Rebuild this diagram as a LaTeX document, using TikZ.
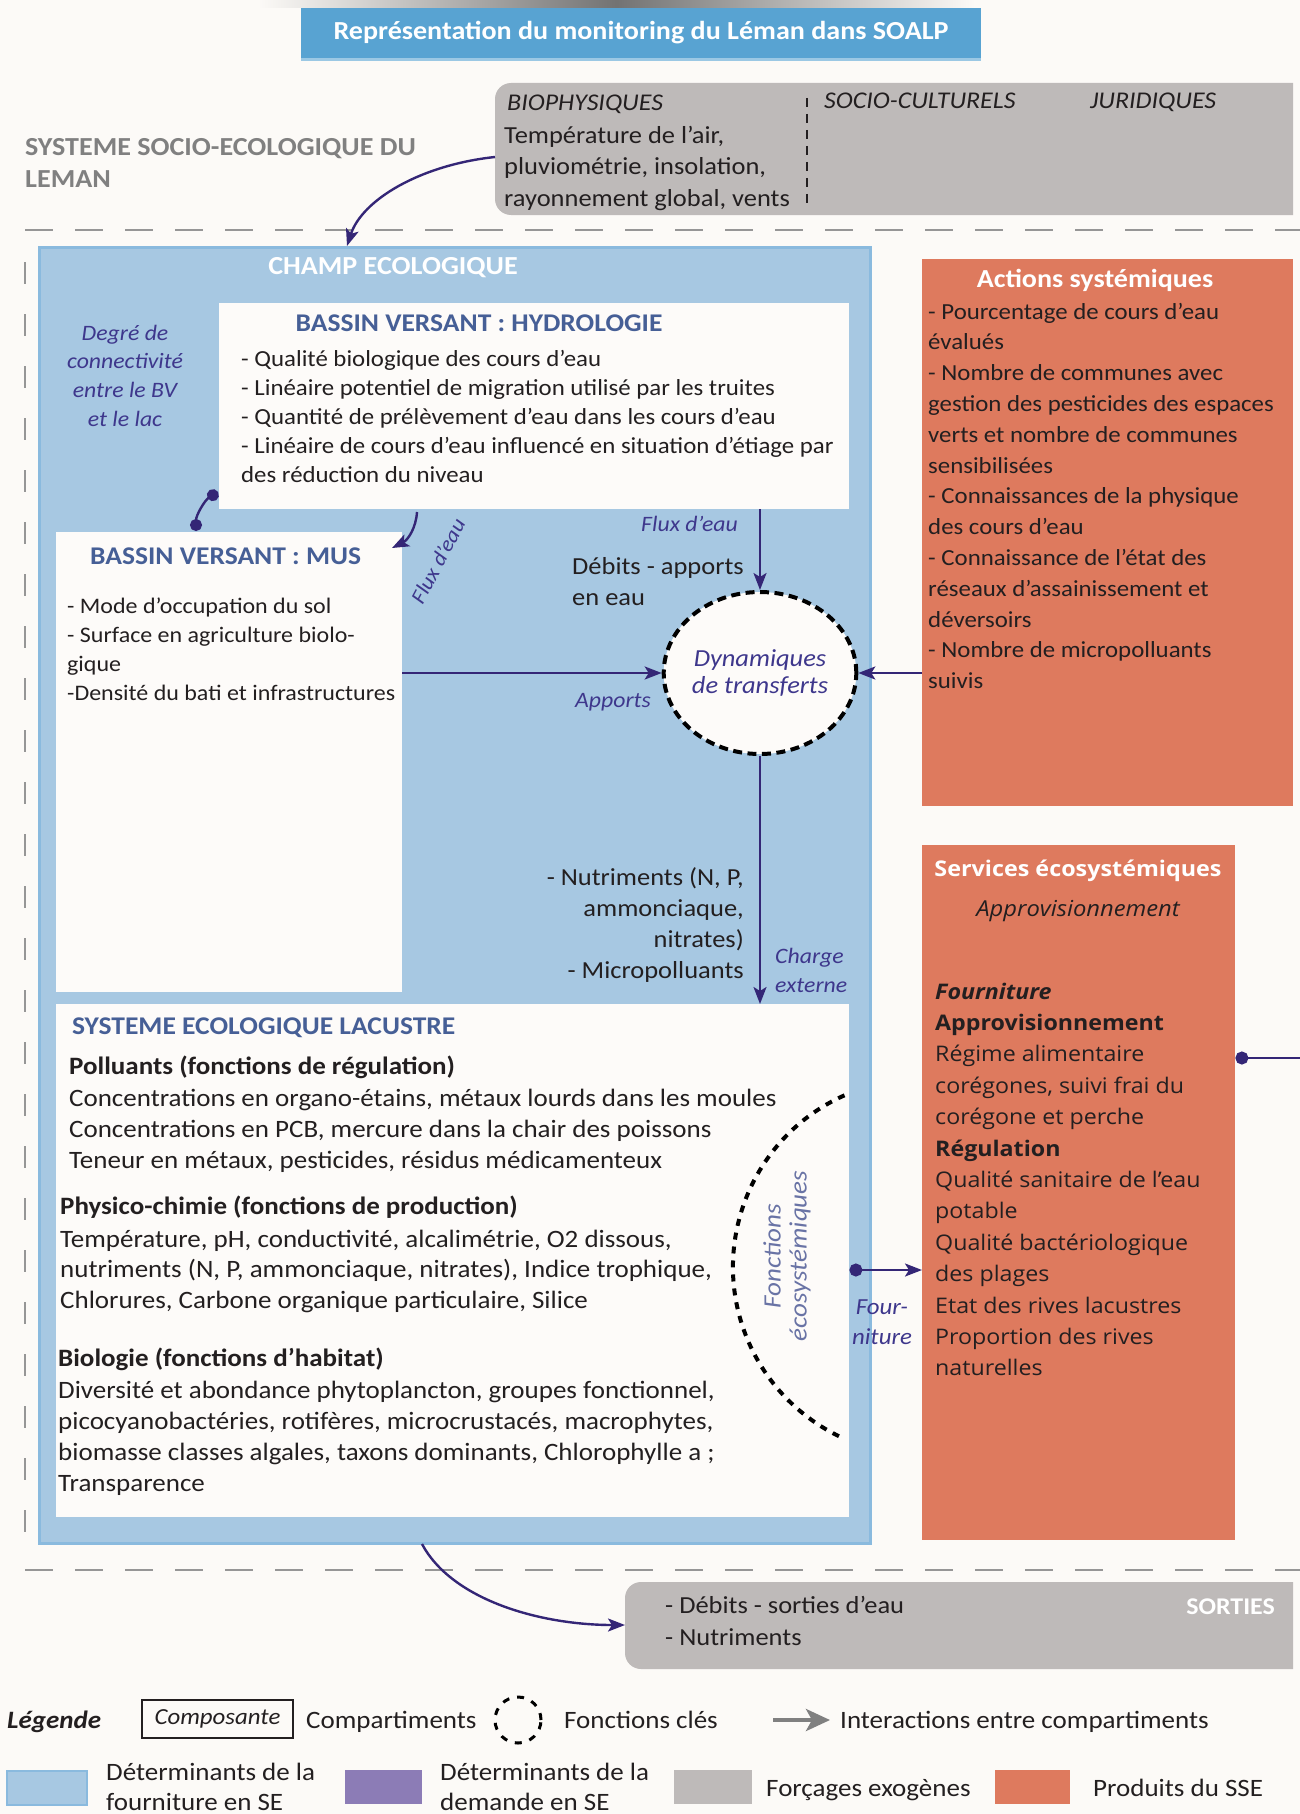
\documentclass[tikz,border=0pt]{standalone}
\usepackage{fontspec}
\setmainfont[FakeStretch=1.08]{Carlito}
\newfontfamily\widefont[FakeStretch=1.08]{Open Sans}
\usetikzlibrary{arrows.meta,shapes.geometric,calc}
\definecolor{bg}{RGB}{252,250,247}
\definecolor{ink}{RGB}{35,31,32}
\definecolor{titleblue}{RGB}{88,163,210}
\definecolor{champ}{RGB}{167,200,226}
\definecolor{champedge}{RGB}{138,186,222}
\definecolor{boxwhite}{RGB}{253,251,249}
\definecolor{hblue}{RGB}{70,95,150}
\definecolor{lblue}{RGB}{62,55,140}
\definecolor{fblue}{RGB}{105,115,165}
\definecolor{arrc}{RGB}{52,38,118}
\definecolor{orangeb}{RGB}{222,122,94}
\definecolor{grayb}{RGB}{190,186,185}
\definecolor{grayt}{RGB}{128,128,128}
\definecolor{purpleb}{RGB}{140,124,182}
\definecolor{sepgray}{RGB}{150,150,150}
\newcommand\fs[1]{\fontsize{#1}{#1}\selectfont}
\newcommand\mylines[6]{\foreach \t [count=\i] in {#6} {\node[#5] (#1\i) at (#2,{#3+(\i-1)*#4}) {\t};}}
\begin{document}
\begin{tikzpicture}[x=1pt,y=-1pt,
  txt/.style={inner sep=0pt, anchor=base west, text=ink, font=\fs{23}},
  lac/.style={txt, font=\fs{25}},
  act/.style={txt, font=\fs{23}},
  serv/.style={txt, font=\widefont\fs{21.5}},
  lab/.style={inner sep=0pt, text=lblue, font=\itshape\fs{22}},
  boxtitle/.style={inner sep=0pt, text=hblue, font=\bfseries\fs{25.5}},
  wbox/.style={fill=boxwhite, inner sep=0pt, anchor=north west},
  arr/.style={draw=arrc, line width=2.4pt, -{Stealth[length=17pt,width=13pt,inset=4pt]}},
  dotline/.style={draw=arrc, line width=2.4pt},
  sep/.style={draw=sepgray, line width=2pt, dash pattern=on 28pt off 22pt},
]
\useasboundingbox (0,0) rectangle (1300,1814);
\fill[bg] (0,0) rectangle (1300,1814);
\shade[left color=bg, right color=bg, middle color=black!55] (258,0) rectangle (975,8);

% title
\fill[titleblue!60] (301,56) rectangle (981,61);
\node[fill=titleblue, minimum width=680pt, minimum height=50pt, inner sep=0pt, text=white, font=\bfseries\fs{26}] (title) at (641,33) {Représentation du monitoring du Léman dans SOALP};

% system label
\node[inner sep=0pt, anchor=base west, text=grayt, font=\bfseries\fs{26}] (sys1) at (25,156) {SYSTEME SOCIO-ECOLOGIQUE DU};
\node[inner sep=0pt, anchor=base west, text=grayt, font=\bfseries\fs{26}] (sys2) at (25,188) {LEMAN};

% gray forcing box
\path[fill=grayb] (1293,83) [rounded corners=16pt] -- (495,83) -- (495,215) [sharp corners] -- (1293,215) -- cycle;
\coordinate (gbw) at (495,157);
\node[txt, font=\itshape\fs{24}] (bio) at (507,111) {BIOPHYSIQUES};
\mylines{bp}{504}{143.5}{31.5}{txt, font=\fs{24.5}}{{Température de l’air,},{pluviométrie, insolation,},{rayonnement global, vents}}
\draw[ink, line width=1.6pt, dash pattern=on 9pt off 7pt] (807,98) -- (807,210);
\node[txt, font=\itshape\fs{24}] (soc) at (824,109) {SOCIO-CULTURELS};
\node[txt, font=\itshape\fs{24}] (jur) at (1090,109) {JURIDIQUES};

% separators
\draw[sep] (25,230) -- (1300,230);
\draw[sep] (25,1570) -- (1300,1570);
\draw[draw=sepgray, line width=2pt, dash pattern=on 22pt off 30pt] (25,262) -- (25,1544);

% champ ecologique
\node[fill=champ, draw=champedge, line width=3pt, minimum width=831pt, minimum height=1296pt, inner sep=0pt, anchor=north west] (champ) at (38,246) {};
\coordinate (ct) at (347,246);
\node[inner sep=0pt, text=white, font=\bfseries\fs{26}] (champt) at (393,268) {CHAMP ECOLOGIQUE};
\draw[arr] (gbw) .. controls (420,165) and (362,200) .. (ct);

% degre de connectivite
\mylines{dg}{125}{340}{28.7}{lab, anchor=base}{{Degré de},{connectivité},{entre le BV},{et le lac}}

% hydrologie
\node[wbox, minimum width=630pt, minimum height=206pt] (hy) at (219,303) {};
\node[boxtitle] (hyt) at (479,323) {BASSIN VERSANT : HYDROLOGIE};
\mylines{hl}{241}{366}{29}{txt}{{- Qualité biologique des cours d’eau},{- Linéaire potentiel de migration utilisé par les truites},{- Quantité de prélèvement d’eau dans les cours d’eau},{- Linéaire de cours d’eau influencé en situation d’étiage par},{des réduction du niveau}}

% MUS
\node[wbox, minimum width=346pt, minimum height=460pt] (mus) at (56,532) {};
\node[boxtitle, anchor=west] (must) at (90,556) {BASSIN VERSANT : MUS};
\mylines{ml}{67}{613}{29.3}{txt, font=\fs{22.2}}{{- Mode d’occupation du sol},{- Surface en agriculture biolo-},{gique},{-Densité du bati et infrastructures}}

% connectors hydro -> MUS
\draw[dotline, {Circle[length=12pt]}-{Circle[length=12pt]}] (218,492) .. controls (205,500) and (196,515) .. (196,531);
\draw[arr] (417,512) .. controls (416,528) and (408,540) .. (392,548);
\node[lab, rotate=62, font=\itshape\fs{21}] (flux1) at (438,561) {Flux d’eau};

% dynamiques circle
\node[ellipse, draw=black, line width=4pt, dash pattern=on 9pt off 5.5pt, fill=boxwhite, minimum width=176pt, minimum height=162pt, inner sep=0pt, align=center, text=lblue, font=\itshape\fs{24.5}] (dyn) at (760,673) {Dynamiques\\[3pt]de transferts};

\draw[arr] (hy.south -| dyn) -- (dyn.north);
\node[lab, anchor=base east] (flux2) at (738,531) {Flux d’eau};
\node[txt, font=\fs{24.5}] (deb1) at (572,574) {Débits - apports};
\node[txt, font=\fs{24.5}] (deb2) at (572,605) {en eau};

\draw[arr] (mus.east |- dyn) -- (dyn.west);
\node[lab] (app) at (613,702) {Apports};

% actions systemiques
\node[fill=orangeb, minimum width=371pt, minimum height=547pt, inner sep=0pt, anchor=north west] (act) at (922,259) {};
\node[inner sep=0pt, text=white, font=\bfseries\fs{26}] (actt) at (1095,280) {Actions systémiques};
\mylines{al}{928}{319}{30.8}{act}{{- Pourcentage de cours d’eau},{évalués},{- Nombre de communes avec},{gestion des pesticides des espaces},{verts et nombre de communes},{sensibilisées},{- Connaissances de la physique},{des cours d’eau},{- Connaissance de l’état des},{réseaux d’assainissement et},{déversoirs},{- Nombre de micropolluants},{suivis}}
\draw[arr] (act.west |- dyn) -- (dyn.east);

% lacustre
\node[wbox, minimum width=793pt, minimum height=513pt] (lac) at (56,1004) {};
\draw[arr] (dyn.south) -- (lac.north -| dyn);
\mylines{nu}{744}{885}{31}{txt, anchor=base east, font=\fs{24.5}}{{- Nutriments (N, P,},{ammonciaque,},{nitrates)},{- Micropolluants}}
\node[lab] (ch1) at (775,963) [anchor=base west] {Charge};
\node[lab] (ch2) at (775,992) [anchor=base west] {externe};

\node[boxtitle, anchor=base west] (lact) at (72,1034) {SYSTEME ECOLOGIQUE LACUSTRE};
\node[lac, font=\bfseries\fs{25}] (pol) at (69,1074) {Polluants (fonctions de régulation)};
\mylines{pl}{69}{1106}{31}{lac}{{Concentrations en organo-étains, métaux lourds dans les moules},{Concentrations en PCB, mercure dans la chair des poissons},{Teneur en métaux, pesticides, résidus médicamenteux}}
\node[lac, font=\bfseries\fs{25}] (phy) at (60,1214) {Physico-chimie (fonctions de production)};
\mylines{ph}{60}{1247}{30.5}{lac}{{Température, pH, conductivité, alcalimétrie, O2 dissous,},{nutriments (N, P, ammonciaque, nitrates), Indice trophique,},{Chlorures, Carbone organique particulaire, Silice}}
\node[lac, font=\bfseries\fs{25}] (bio2) at (58,1366) {Biologie (fonctions d’habitat)};
\mylines{bl}{58}{1398}{31.3}{lac}{{Diversité et abondance phytoplancton, groupes fonctionnel,},{picocyanobactéries, rotifères, microcrustacés, macrophytes,},{biomasse classes algales, taxons dominants, Chlorophylle a ;},{Transparence}}

% fonctions ecosystemiques arc
\draw[black, line width=4pt, dash pattern=on 7pt off 7pt] (844.5,1095.3) arc[start angle=246, end angle=114, radius=188];
\node[inner sep=0pt, rotate=90, text=fblue, font=\itshape\fs{25}] (fe1) at (772,1256) {Fonctions};
\node[inner sep=0pt, rotate=90, text=fblue, font=\itshape\fs{25}] (fe2) at (800,1256) {écosystémiques};

% services
\node[fill=orangeb, minimum width=313pt, minimum height=695pt, inner sep=0pt, anchor=north west] (serv) at (922,845) {};
\node[inner sep=0pt, text=white, font=\widefont\bfseries\fs{21.6}] (servt) at (1078,871) {Services écosystémiques};
\node[inner sep=0pt, text=ink, font=\widefont\itshape\fs{22}] (servs) at (1078,911) {Approvisionnement};
\node[serv, font=\widefont\bfseries\itshape\fs{21.5}] (sv1) at (935,999) {Fourniture};
\node[serv, font=\widefont\bfseries\fs{21.5}] (sv2) at (935,1030.4) {Approvisionnement};
\mylines{sa}{935}{1061.8}{31.4}{serv}{{Régime alimentaire},{corégones, suivi frai du},{corégone et perche}}
\node[serv, font=\widefont\bfseries\fs{21.5}] (sv3) at (935,1156) {Régulation};
\mylines{sr}{935}{1187.4}{31.4}{serv}{{Qualité sanitaire de l’eau},{potable},{Qualité bactériologique},{des plages},{Etat des rives lacustres},{Proportion des rives},{naturelles}}

\draw[arr, {Circle[length=13pt]}-{Stealth[length=17pt,width=13pt,inset=4pt]}] (lac.east |- 0,1270) -- (serv.west |- 0,1270);
\node[lab, anchor=base, font=\itshape\fs{23}] (fo1) at (882,1314) {Four-};
\node[lab, anchor=base, font=\itshape\fs{23}] (fo2) at (882,1344) {niture};
\coordinate (sout) at (1300,1058);
\draw[dotline, {Circle[length=13pt]}-] (serv.east |- sout) -- (sout);

% sorties
\path[fill=grayb] (1293,1582) [rounded corners=16pt] -- (625,1582) -- (625,1669) [sharp corners] -- (1293,1669) -- cycle;
\coordinate (sin) at (625,1625);
\coordinate (cb) at (422,1544);
\draw[arr] (cb) .. controls (452,1600) and (540,1625) .. (sin);
\node[txt, font=\fs{24.5}] (so1) at (665,1613) {- Débits - sorties d’eau};
\node[txt, font=\fs{24.5}] (so2) at (665,1645) {- Nutriments};
\node[inner sep=0pt, anchor=base east, text=white, font=\bfseries\fs{24}] (sot) at (1275,1614) {SORTIES};

% legend
\node[txt, font=\bfseries\itshape\fs{25}] (leg) at (7,1728) {Légende};
\node[draw=ink, line width=1.5pt, minimum width=151pt, minimum height=38pt, inner sep=0pt, text=ink, font=\itshape\fs{23}] (comp) at (217.5,1719) {Composante};
\node[txt, font=\fs{25}] (compt) at (306,1728) {Compartiments};
\node[circle, draw=black, line width=3pt, dash pattern=on 7pt off 8pt, minimum size=46pt, inner sep=0pt] (fcl) at (518,1720) {};
\node[txt, font=\fs{25}] (fclt) at (564,1728) {Fonctions clés};
\coordinate (la1) at (773,1720);
\coordinate (la2) at (830,1720);
\draw[draw=grayt, line width=4pt, -{Stealth[length=24pt,width=22pt,inset=6pt]}] (la1) -- (la2);
\node[txt, font=\fs{25}] (intt) at (840,1728) {Interactions entre compartiments};

\node[fill=champ, draw=champedge, line width=2pt, minimum width=80pt, minimum height=34pt, inner sep=0pt, anchor=north west] (sw1) at (6,1770) {};
\node[txt, font=\fs{25}] (sw1a) at (106,1780) {Déterminants de la};
\node[txt, font=\fs{25}] (sw1b) at (106,1810) {fourniture en SE};
\node[fill=purpleb, minimum width=77pt, minimum height=34pt, inner sep=0pt, anchor=north west] (sw2) at (345,1770) {};
\node[txt, font=\fs{25}] (sw2a) at (440,1780) {Déterminants de la};
\node[txt, font=\fs{25}] (sw2b) at (440,1810) {demande en SE};
\node[fill=grayb, minimum width=78pt, minimum height=34pt, inner sep=0pt, anchor=north west] (sw3) at (674,1770) {};
\node[txt, font=\fs{25}] (sw3a) at (766,1796) {Forçages exogènes};
\node[fill=orangeb, minimum width=75pt, minimum height=34pt, inner sep=0pt, anchor=north west] (sw4) at (995,1770) {};
\node[txt, font=\fs{25}] (sw4a) at (1093,1796) {Produits du SSE};
\end{tikzpicture}
\end{document}
